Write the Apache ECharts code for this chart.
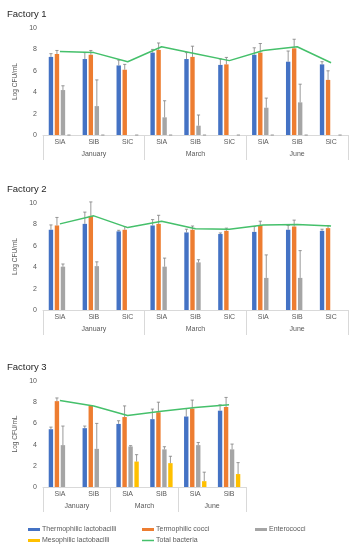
<!DOCTYPE html>
<html><head><meta charset="utf-8">
<script src="https://cdn.jsdelivr.net/npm/echarts@6/dist/echarts.min.js"></script>
<style>html,body{margin:0;padding:0;background:#fff}#c{width:353px;height:550px}</style>
</head><body><div id="c"></div>
<script>
// ---------- data ----------
const seriesNames = ['Thermophilic lactobacilli','Termophilic cocci','Enterococci','Mesophilic lactobacilli','Total bacteria'];
const months12 = ['January','March','June'];
const sites12 = ['SiA','SiB','SiC','SiA','SiB','SiC','SiA','SiB','SiC'];
const months3 = ['January','March','June'];
const sites3 = ['SiA','SiB','SiA','SiB','SiA','SiB'];

// Factory 1
const f1Thermo   = [7.3, 7.1, 6.5, 7.7, 7.1, 6.55, 7.5, 6.85, 6.6];
const f1ThermoE  = [7.6, 7.7, 7.0, 8.0, 7.7, 7.1, 8.15, 7.85, 6.85];
const f1Cocci    = [7.57, 7.5, 6.1, 7.95, 7.3, 6.6, 7.7, 8.1, 5.15];
const f1CocciE   = [7.9, 7.9, 6.6, 8.6, 8.3, 7.25, 8.55, 8.95, 6.0];
const f1Entero   = [4.2, 2.7, 0, 1.65, 0.87, 0, 2.55, 3.05, 0];
const f1EnteroE  = [4.6, 5.15, null, 3.2, 1.87, null, 3.45, 4.75, null];
const f1Meso     = [0, 0, 0, 0, 0, 0, 0, 0, 0];
const f1MesoE    = [0, 0, 0, 0, 0, 0, 0, 0, 0];
const f1Total    = [7.8, 7.7, 6.85, 8.25, 7.6, 6.95, 7.9, 8.25, 6.75];

// Factory 2
const f2Thermo   = [7.5, 8.05, 7.35, 7.9, 7.25, 7.1, 7.3, 7.5, 7.4];
const f2ThermoE  = [7.95, 9.15, 7.45, 8.45, 7.55, 7.2, 7.8, 7.9, 7.55];
const f2Cocci    = [7.9, 8.8, 7.5, 8.05, 7.5, 7.4, 7.9, 7.8, 7.65];
const f2CocciE   = [8.65, 10.1, 7.8, 8.85, 7.85, 7.65, 8.3, 8.4, 7.9];
const f2Entero   = [4.05, 4.1, 0, 4.05, 4.45, 0, 3.0, 3.0, 0];
const f2EnteroE  = [4.3, 4.5, null, 4.85, 4.7, null, 5.15, 5.55, null];
const f2Meso     = [0, 0, 0, 0, 0, 0, 0, 0, 0];
const f2MesoE    = [null, null, null, null, null, null, null, null, null];
const f2Total    = [8.05, 8.8, 7.7, 8.3, 7.6, 7.55, 7.95, 8.0, 7.85];

// Factory 3
const f3Thermo   = [5.45, 5.55, 5.95, 6.4, 6.65, 7.2];
const f3ThermoE  = [5.65, 5.75, 6.25, 7.35, 7.4, 7.75];
const f3Cocci    = [8.1, 7.65, 6.6, 7.05, 7.4, 7.55];
const f3CocciE   = [8.4, null, 7.65, 8.0, 8.2, 8.45];
const f3Entero   = [3.95, 3.6, 3.82, 3.55, 3.95, 3.55];
const f3EnteroE  = [5.75, 6.0, 3.9, 3.8, 4.2, 4.05];
const f3Meso     = [0, 0, 2.4, 2.25, 0.55, 1.22];
const f3MesoE    = [null, null, 3.05, 2.9, 1.4, 2.3];
const f3Total    = [8.15, 7.65, 6.75, 7.15, 7.5, 7.75];

const yTicks = {min: 0, max: 10, interval: 2};

// ---------- styling ----------
const colors = ['#4472C4', '#ED7D31', '#A5A5A5', '#FFC000', '#45C06B'];
const FONT = 'Liberation Sans';
const BW = 4.4;          // bar width
const GAP = 1.6;         // gap between bars
const STEP = BW + GAP;

const grids = [
  {left: 43, top: 28, width: 305, height: 107},
  {left: 43, top: 203, width: 305, height: 107},
  {left: 43, top: 381, width: 203, height: 106}
];

function errSeries(gi, vals, errs) {
  const data = [];
  vals.forEach((arr, si) => {
    arr.forEach((v, ci) => {
      const e = errs[si][ci];
      if (e !== null && e !== undefined) data.push([ci, v, e, si]);
    });
  });
  return {
    type: 'custom', xAxisIndex: gi * 2, yAxisIndex: gi, z: 5, silent: true,
    renderItem: function (params, api) {
      const ci = api.value(0), v = api.value(1), e = api.value(2), si = api.value(3);
      const p0 = api.coord([ci, v]);
      const p1 = api.coord([ci, e]);
      const x = p0[0] + (si - 1.5) * STEP;
      return {
        type: 'group',
        children: [
          {type: 'line', shape: {x1: x, y1: p0[1], x2: x, y2: p1[1]}, style: {stroke: '#808080', lineWidth: 0.8}},
          {type: 'line', shape: {x1: x - 1.6, y1: p1[1], x2: x + 1.6, y2: p1[1]}, style: {stroke: '#808080', lineWidth: 0.8}}
        ]
      };
    },
    data: data
  };
}

const factories = [
  {sites: sites12, months: months12, v: [f1Thermo, f1Cocci, f1Entero, f1Meso], e: [f1ThermoE, f1CocciE, f1EnteroE, f1MesoE], t: f1Total},
  {sites: sites12, months: months12, v: [f2Thermo, f2Cocci, f2Entero, f2Meso], e: [f2ThermoE, f2CocciE, f2EnteroE, f2MesoE], t: f2Total},
  {sites: sites3, months: months3, v: [f3Thermo, f3Cocci, f3Entero, f3Meso], e: [f3ThermoE, f3CocciE, f3EnteroE, f3MesoE], t: f3Total}
];

const xAxis = [], yAxis = [], series = [];
factories.forEach((f, gi) => {
  xAxis.push({
    type: 'category', gridIndex: gi, data: f.sites,
    axisLine: {show: true, lineStyle: {color: '#d9d9d9', width: 1}},
    axisTick: {show: false},
    axisLabel: {fontSize: 7, color: '#595959', fontFamily: FONT, margin: 4, interval: 0}
  });
  xAxis.push({
    type: 'category', gridIndex: gi, data: f.months, position: 'bottom',
    axisLine: {show: false},
    axisTick: {show: true, length: 25, interval: 0, lineStyle: {color: '#d9d9d9', width: 1}},
    axisLabel: {fontSize: 7, color: '#595959', fontFamily: FONT, margin: 16, interval: 0}
  });
  yAxis.push({
    type: 'value', gridIndex: gi, min: yTicks.min, max: yTicks.max, interval: yTicks.interval,
    splitLine: {show: false}, axisLine: {show: false}, axisTick: {show: false},
    axisLabel: {fontSize: 7, color: '#595959', fontFamily: FONT, margin: 6},
    name: 'Log CFU/mL', nameLocation: 'middle', nameGap: 19, nameRotate: 90,
    nameTextStyle: {fontSize: 6.5, color: '#595959', fontFamily: FONT}
  });
  f.v.forEach((arr, si) => {
    series.push({
      name: seriesNames[si], type: 'bar', xAxisIndex: gi * 2, yAxisIndex: gi,
      data: arr, barWidth: BW, barGap: (GAP / BW * 100) + '%',
      itemStyle: {color: colors[si]}, silent: true
    });
  });
  series.push({
    name: seriesNames[4], type: 'line', xAxisIndex: gi * 2, yAxisIndex: gi,
    data: f.t, symbol: 'none', lineStyle: {color: colors[4], width: 1.5},
    itemStyle: {color: colors[4]}, z: 6, silent: true
  });
  series.push(errSeries(gi, f.v, f.e));
});

const legendPos = [
  {left: 28, top: 526}, {left: 142, top: 526}, {left: 255, top: 526},
  {left: 28, top: 537}, {left: 142, top: 537}
];
const legend = seriesNames.map((n, i) => ({
  data: [n], left: legendPos[i].left, top: legendPos[i].top, padding: 0,
  icon: 'rect', itemWidth: 12, itemHeight: i === 4 ? 1.5 : 3,
  textStyle: {fontSize: 7, color: '#595959', fontFamily: FONT, padding: [0, 0, 0, -3]},
  selectedMode: false
}));

const titles = ['Factory 1', 'Factory 2', 'Factory 3'].map((t, i) => ({
  text: t, left: 2, top: [4, 179, 357][i],
  textStyle: {fontSize: 9.5, fontWeight: 'normal', color: '#262626', fontFamily: FONT}
}));

const chart = echarts.init(document.getElementById('c'), null, {renderer: 'canvas'});
chart.setOption({
  animation: false,
  color: colors,
  title: titles,
  legend: legend,
  grid: grids,
  xAxis: xAxis,
  yAxis: yAxis,
  series: series
});
</script></body></html>
